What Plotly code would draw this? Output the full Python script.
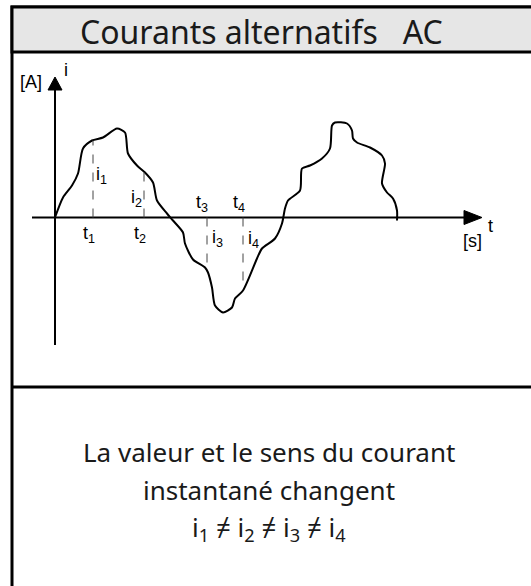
import plotly.graph_objects as go

W, H = 531, 586

# waveform i(t), t in ms, i in A
t_wave = [0, 0.8, 1.7, 2.3, 2.8, 3.7, 4.8, 6.2, 7.0, 7.3, 8.2, 9.0, 9.8, 10.2, 11.2, 11.8,
          12.8, 13.0, 13.8, 15.0, 15.3, 15.7, 16.0, 16.8, 17.7, 18.0, 18.8, 20.2, 20.7, 22.0,
          22.7, 23.0, 23.3, 24.5, 24.7, 25.5, 26.7, 27.5, 27.7, 28.0, 29.2, 29.7, 29.8, 30.2,
          31.5, 32.7, 33.0, 32.7, 33.2, 33.8, 34.2, 34.2]
i_wave = [0, 2.0, 3.2, 4.4, 6.9, 7.7, 8.0, 8.9, 8.5, 6.4, 5.2, 4.5, 3.5, 1.7, 0.4, -0.3,
          -1.5, -2.6, -4.2, -5.0, -5.5, -7.0, -8.8, -9.5, -9.0, -8.1, -7.3, -4.1, -3.1, -2.1,
          -0.6, 0.9, 1.7, 2.7, 4.9, 5.2, 5.9, 6.9, 9.2, 9.5, 9.4, 8.7, 7.9, 7.5,
          7.0, 6.2, 5.4, 3.4, 2.5, 1.9, 0.7, -0.3]

# sampled instants and the matching instantaneous values
instant_names = ["1", "2", "3", "4"]
instant_t = [3.8, 8.9, 15.2, 18.8]
instant_i = [7.7, 4.7, -5.1, -7.1]

title_text = "Courants alternatifs\u00a0\u00a0\u00a0AC"
caption_lines = [
    "La valeur et le sens du courant",
    "instantané changent",
    "i<sub>1</sub> \u2260 i<sub>2</sub> \u2260 i<sub>3</sub> \u2260 i<sub>4</sub>",
]

# pixel position of the origin and pixels per unit
X0, Y0, SX, SY = 55, 217.5, 10, 10


def fx(p):
    return p / W


def fy(p):
    return 1 - p / H


label_font = dict(family="Liberation Sans, Arial", size=18, color="black")
text_font = dict(family="Noto Sans", size=26, color="#1a1a1a")

fig = go.Figure()

fig.add_trace(
    go.Scatter(
        x=t_wave,
        y=i_wave,
        mode="lines",
        line=dict(color="black", width=2, shape="spline", smoothing=0.7),
        hoverinfo="skip",
    )
)

shapes = []
# outer frame and title band
shapes.append(dict(type="rect", xref="paper", yref="paper", x0=fx(12), x1=fx(W + 20),
                   y0=fy(H + 20), y1=fy(7), line=dict(color="black", width=3),
                   fillcolor="white", layer="below"))
shapes.append(dict(type="rect", xref="paper", yref="paper", x0=fx(12), x1=fx(W + 20),
                   y0=fy(52), y1=fy(7), line=dict(color="black", width=3),
                   fillcolor="#e6e6e6", layer="below"))
shapes.append(dict(type="line", xref="paper", yref="paper", x0=fx(12), x1=fx(W + 20),
                   y0=fy(387), y1=fy(387), line=dict(color="black", width=3)))

# axes with arrow heads (in data units)
x_tip = (482 - X0) / SX
y_tip = (Y0 - 77) / SY
shapes.append(dict(type="line", x0=(32 - X0) / SX, x1=x_tip - 1.6, y0=0, y1=0,
                   line=dict(color="black", width=2)))
shapes.append(dict(type="line", x0=0, x1=0, y0=(Y0 - 345) / SY, y1=y_tip - 1.2,
                   line=dict(color="black", width=2)))
shapes.append(dict(type="path",
                   path=f"M {x_tip} 0 L {x_tip - 1.8} 0.7 L {x_tip - 1.8} -0.7 Z",
                   fillcolor="black", line=dict(color="black", width=1)))
shapes.append(dict(type="path",
                   path=f"M 0 {y_tip} L -0.7 {y_tip - 1.3} L 0.7 {y_tip - 1.3} Z",
                   fillcolor="black", line=dict(color="black", width=1)))

# dashed instants
for t, i in zip(instant_t, instant_i):
    shapes.append(dict(type="line", x0=t, x1=t, y0=0, y1=i,
                       line=dict(color="#444444", width=1, dash="dash")))

annotations = []
annotations.append(dict(text=title_text, xref="paper", yref="paper", x=fx(261), y=fy(31),
                        xanchor="center", yanchor="middle", showarrow=False,
                        font=dict(family="Noto Sans", size=32, color="#1a1a1a")))
for k, line in enumerate(caption_lines):
    annotations.append(dict(text=line, xref="paper", yref="paper", x=fx(269), y=fy(452 + 38 * k),
                            xanchor="center", yanchor="middle", showarrow=False, font=text_font))

annotations.append(dict(text="[A]", x=0, y=y_tip, xshift=-24, yshift=-5, showarrow=False,
                        font=label_font))
annotations.append(dict(text="i", x=0, y=y_tip, xshift=11, yshift=7, showarrow=False,
                        font=label_font))
annotations.append(dict(text="t", x=x_tip, y=0, xshift=8, yshift=-8, showarrow=False,
                        font=label_font))
annotations.append(dict(text="[s]", x=x_tip, y=0, xshift=-10, yshift=-23, showarrow=False,
                        font=label_font))

# t labels: below the axis for positive values, above for negative ones
t_offsets = [(-4, -17), (-4, -17), (-5, 14), (-4, 14)]
i_offsets = [(8, 42), (-8, 19), (10, -21), (10, -22)]
for name, t, (dx, dy), (ix, iy) in zip(instant_names, instant_t, t_offsets, i_offsets):
    annotations.append(dict(text=f"t<sub>{name}</sub>", x=t, y=0, xshift=dx, yshift=dy,
                            showarrow=False, font=label_font))
    annotations.append(dict(text=f"i<sub>{name}</sub>", x=t, y=0, xshift=ix, yshift=iy,
                            showarrow=False, font=label_font))

fig.update_layout(
    width=W,
    height=H,
    margin=dict(l=0, r=0, t=0, b=0),
    paper_bgcolor="white",
    plot_bgcolor="rgba(0,0,0,0)",
    showlegend=False,
    shapes=shapes,
    annotations=annotations,
    xaxis=dict(range=[-X0 / SX, (W - X0) / SX], visible=False, fixedrange=True),
    yaxis=dict(range=[(Y0 - H) / SY, Y0 / SY], visible=False, fixedrange=True),
)

fig.write_html(
    "out.html",
    config={"displayModeBar": False},
    post_script="document.body.style.margin = '0px'; document.body.style.overflow = 'hidden';",
)
